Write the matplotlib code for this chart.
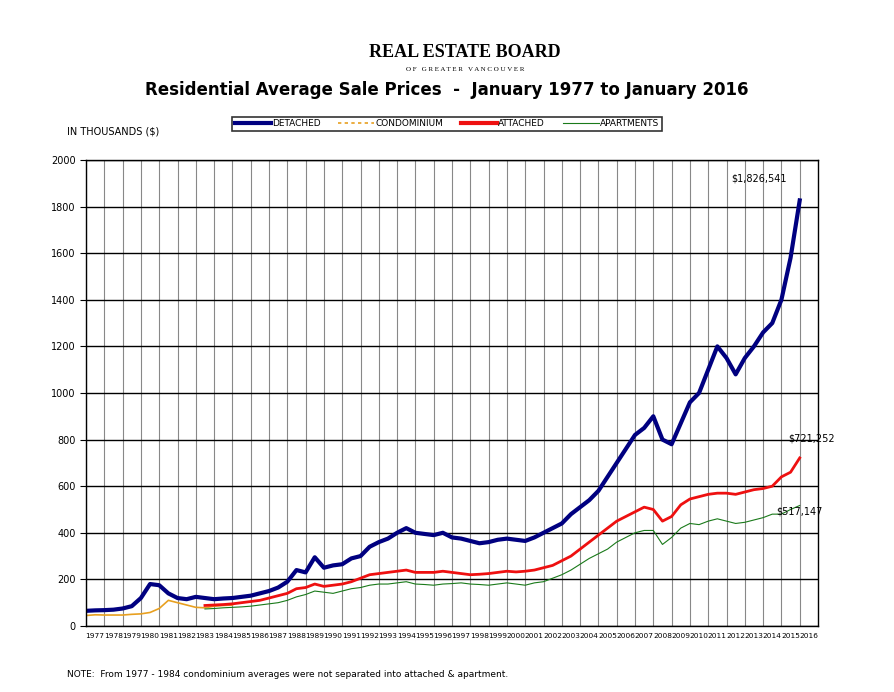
import matplotlib
matplotlib.use("Agg")
import matplotlib.pyplot as plt
import numpy as np

start_det = 1977.0
detached = [65,67,68,70,75,85,120,180,175,140,120,115,125,120,115,118,120,125,130,140,
            150,165,190,240,230,295,250,260,265,290,300,340,360,375,400,420,400,395,390,400,
            380,375,365,355,360,370,375,370,365,380,400,420,440,480,510,540,580,640,700,760,
            820,850,900,800,780,870,960,1000,1100,1200,1150,1080,1150,1200,1260,1300,1400,1580,1826.541]
start_condo = 1977.0
condominium = [45,48,47,47,47,50,52,58,75,110,100,90,80,78,85,88,90]
start_att = 1983.5
attached = [88,90,92,95,100,105,110,120,130,140,160,165,180,170,175,180,190,205,220,225,230,
            235,240,230,230,230,235,230,225,220,222,225,230,235,232,235,240,250,260,280,300,
            330,360,390,420,450,470,490,510,500,450,470,520,545,555,565,570,570,565,575,585,
            590,600,640,660,721.252]
apartments = [73,75,78,80,82,85,90,95,100,110,125,135,150,145,140,150,160,165,175,180,180,
              185,190,180,178,175,180,182,185,180,178,175,180,185,180,175,185,190,205,220,240,
              265,290,310,330,360,380,400,410,410,350,380,420,440,435,450,460,450,440,445,455,
              465,480,480,500,517.147]
years = list(range(1977, 2017))

def xs(start, n):
    return start + 0.5 * np.arange(n)

fig = plt.figure(figsize=(8.94, 6.92), dpi=100)
ax = fig.add_axes([0.0962, 0.0954, 0.8188, 0.6734])
ax.plot(xs(start_condo, len(condominium)), condominium, color="#e8a020", lw=1.2)
ax.plot(xs(start_det, len(detached)), detached, color="#000080", lw=3)
ax.plot(xs(start_att, len(attached)), attached, color="#ee1010", lw=2)
ax.plot(xs(start_att, len(apartments)), apartments, color="#1a7a1a", lw=0.8)

ax.set_xlim(1977, 2017)
ax.set_ylim(0, 2000)
ax.set_yticks(range(0, 2001, 200))
ax.set_xticks(years, minor=False)
ax.set_xticklabels([])
ax.set_xticks([y + 0.5 for y in years], minor=True)
ax.set_xticklabels([str(y) for y in years], minor=True, fontsize=5.3)
ax.tick_params(axis="x", which="both", length=0, pad=5)
ax.tick_params(axis="y", labelsize=7, length=4)
ax.grid(axis="x", which="major", color="#888888", lw=0.8)
ax.grid(axis="y", color="black", lw=1)
for s in ax.spines.values():
    s.set_linewidth(1)

ax.text(2015.3, 1826.541 + 80, "$1,826,541", fontsize=7, ha="right")
ax.text(2015.4, 721.252 + 70, "$721,252", fontsize=7, ha="left")
ax.text(2014.7, 517.147 - 40, "$517,147", fontsize=7, ha="left")

fig.text(0.52, 0.918, "REAL ESTATE BOARD", ha="center", fontsize=13, family="Liberation Serif", weight="bold")
fig.text(0.52, 0.897, "O F   G R E A T E R   V A N C O U V E R", ha="center", fontsize=5, family="Liberation Serif")
fig.text(0.5, 0.862, "Residential Average Sale Prices  -  January 1977 to January 2016",
         ha="center", fontsize=12, weight="bold")
fig.text(0.075, 0.806, "IN THOUSANDS ($)", fontsize=7)
fig.text(0.075, 0.022, "NOTE:  From 1977 - 1984 condominium averages were not separated into attached & apartment.", fontsize=6.5)

from matplotlib.lines import Line2D
handles = [Line2D([], [], color="#000080", lw=3), Line2D([], [], color="#e8a020", lw=1.2, ls=(0, (2, 2))),
           Line2D([], [], color="#ee1010", lw=3), Line2D([], [], color="#1a7a1a", lw=0.8)]
leg = fig.legend(handles, ["DETACHED", "CONDOMINIUM", "ATTACHED", "APARTMENTS"], loc="center",
                 bbox_to_anchor=(0.5, 0.821), ncol=4, fontsize=6.5, frameon=True, fancybox=False,
                 handlelength=4, handletextpad=0.1, columnspacing=2.0, borderpad=0.3)
leg.get_frame().set_edgecolor("black")
leg.get_frame().set_linewidth(1.2)
fig.savefig("out.png", dpi=100)
